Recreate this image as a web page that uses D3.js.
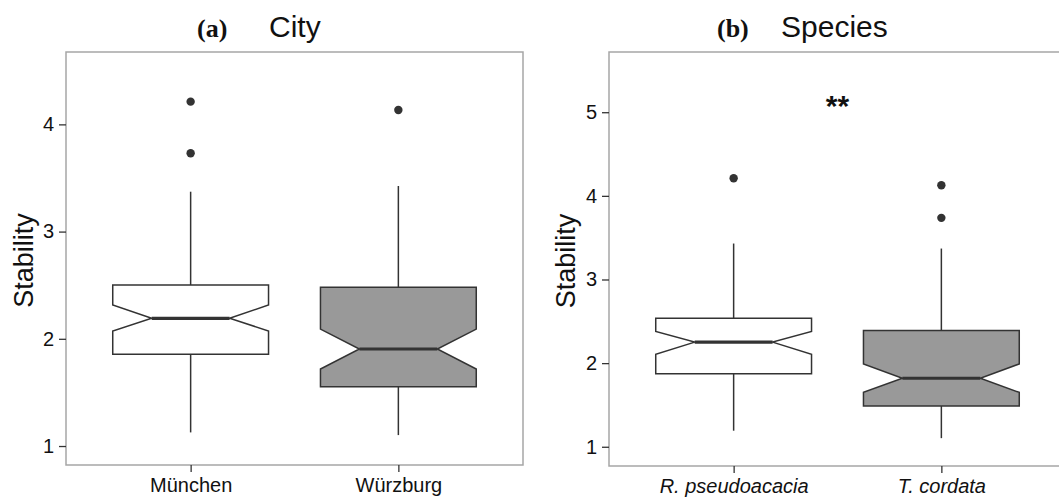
<!DOCTYPE html>
<html>
<head>
<meta charset="utf-8">
<script src="https://cdn.jsdelivr.net/npm/d3@7"></script>
<style>
  body { margin: 0; background: #fff; }
  text { font-family: "Liberation Sans", Arial, sans-serif; fill: #111; }
  text.tag { font-family: "Liberation Serif", "DejaVu Serif", serif; font-weight: bold; }
</style>
</head>
<body>
<svg id="fig" width="1059" height="500"></svg>
<script>
// panel (a) - city
var cities = ["München", "Würzburg"];
var cityQ1 = [1.855, 1.553];
var cityMedian = [2.191, 1.905];
var cityQ3 = [2.502, 2.480];
var cityNotchLo = [2.073, 1.718];
var cityNotchHi = [2.315, 2.091];
var cityWhiskerLo = [1.127, 1.102];
var cityWhiskerHi = [3.372, 3.425];
var cityOutliers = [[4.212, 3.730], [4.134]];
var cityTicks = [1, 2, 3, 4];

// panel (b) - species
var species = ["R. pseudoacacia", "T. cordata"];
var speciesQ1 = [1.872, 1.488];
var speciesMedian = [2.251, 1.819];
var speciesQ3 = [2.538, 2.391];
var speciesNotchLo = [2.107, 1.650];
var speciesNotchHi = [2.379, 1.991];
var speciesWhiskerLo = [1.192, 1.103];
var speciesWhiskerHi = [3.430, 3.370];
var speciesOutliers = [[4.210], [4.126, 3.737]];
var speciesTicks = [1, 2, 3, 4, 5];

var fills = ["#ffffff", "#999999"];
var ink = "#333333";

var svg = d3.select("#fig");

function buildRows(cats, q1, med, q3, nlo, nhi, wlo, whi, outs) {
    return cats.map(function (c, i) {
        return { cat: c, q1: q1[i], med: med[i], q3: q3[i], nlo: nlo[i], nhi: nhi[i],
                 wlo: wlo[i], whi: whi[i], outs: outs[i], fill: fills[i] };
    });
}

function drawPanel(p) {
    var g = svg.append("g");

    var x = d3.scalePoint()
        .domain(p.rows.map(d => d.cat))
        .range([p.left, p.right])
        .padding(0.6);
    var step = x.step();
    var y = d3.scaleLinear()
        .domain(p.yDomain)
        .range([p.bottom, p.top]);

    // panel border
    g.append("rect")
        .attr("x", p.left).attr("y", p.top)
        .attr("width", p.right - p.left).attr("height", p.bottom - p.top)
        .attr("fill", "none").attr("stroke", "#a6a6a6").attr("stroke-width", 1.5);

    // y axis
    var yAxis = g.append("g")
        .attr("transform", "translate(" + p.left + ",0)")
        .call(d3.axisLeft(y).tickValues(p.ticks).tickSize(7).tickPadding(5).tickFormat(d3.format("d")));
    yAxis.select(".domain").remove();
    yAxis.selectAll(".tick line").attr("stroke", ink).attr("stroke-width", 1.3);
    yAxis.selectAll(".tick text").attr("font-size", 20).attr("fill", "#111");

    // x axis
    var xAxis = g.append("g")
        .attr("transform", "translate(0," + p.bottom + ")")
        .call(d3.axisBottom(x).tickSize(7).tickPadding(6));
    xAxis.select(".domain").remove();
    xAxis.selectAll(".tick line").attr("stroke", ink).attr("stroke-width", 1.3);
    xAxis.selectAll(".tick text").attr("font-size", 20).attr("fill", "#111")
        .style("font-style", p.italic ? "italic" : null);

    // y label
    g.append("text")
        .attr("transform", "translate(" + p.labelX + "," + ((p.top + p.bottom) / 2 + 2) + ") rotate(-90)")
        .attr("text-anchor", "middle")
        .attr("font-size", 27)
        .text("Stability");

    // title
    g.append("text")
        .attr("class", "tag")
        .attr("x", p.tagX).attr("y", 37)
        .attr("font-size", 26)
        .text(p.tag);
    g.append("text")
        .attr("x", p.titleX).attr("y", 37)
        .attr("font-size", 30)
        .text(p.title);

    var boxes = g.selectAll(".box").data(p.rows).enter().append("g").attr("class", "box");
    var hw = step * 0.375;

    // whiskers
    boxes.append("line")
        .attr("x1", d => x(d.cat)).attr("x2", d => x(d.cat))
        .attr("y1", d => y(d.q3)).attr("y2", d => y(d.whi))
        .attr("stroke", ink).attr("stroke-width", 1.5);
    boxes.append("line")
        .attr("x1", d => x(d.cat)).attr("x2", d => x(d.cat))
        .attr("y1", d => y(d.q1)).attr("y2", d => y(d.wlo))
        .attr("stroke", ink).attr("stroke-width", 1.5);

    // notched box
    boxes.append("path")
        .attr("d", function (d) {
            var cx = x(d.cat), l = cx - hw, r = cx + hw, nl = cx - hw / 2, nr = cx + hw / 2;
            return "M" + l + "," + y(d.q3) + "L" + r + "," + y(d.q3) +
                "L" + r + "," + y(d.nhi) + "L" + nr + "," + y(d.med) +
                "L" + r + "," + y(d.nlo) + "L" + r + "," + y(d.q1) +
                "L" + l + "," + y(d.q1) + "L" + l + "," + y(d.nlo) +
                "L" + nl + "," + y(d.med) + "L" + l + "," + y(d.nhi) + "Z";
        })
        .attr("fill", d => d.fill)
        .attr("stroke", ink).attr("stroke-width", 1.5);

    // median
    boxes.append("line")
        .attr("x1", d => x(d.cat) - hw / 2).attr("x2", d => x(d.cat) + hw / 2)
        .attr("y1", d => y(d.med)).attr("y2", d => y(d.med))
        .attr("stroke", ink).attr("stroke-width", 3.2);

    // outliers
    boxes.selectAll("circle")
        .data(d => d.outs.map(v => ({ cat: d.cat, v: v })))
        .enter().append("circle")
        .attr("cx", d => x(d.cat)).attr("cy", d => y(d.v))
        .attr("r", 4.2).attr("fill", ink);

    if (p.signif) {
        g.append("text")
            .attr("x", (x(p.rows[0].cat) + x(p.rows[1].cat)) / 2)
            .attr("y", y(p.signif.y))
            .attr("text-anchor", "middle")
            .attr("font-size", 30)
            .attr("font-weight", "bold")
            .text(p.signif.label);
    }
}

drawPanel({
    rows: buildRows(cities, cityQ1, cityMedian, cityQ3, cityNotchLo, cityNotchHi, cityWhiskerLo, cityWhiskerHi, cityOutliers),
    left: 66, right: 523, top: 52, bottom: 465,
    yDomain: [0.823, 4.675], ticks: cityTicks,
    labelX: 33, tagX: 197, titleX: 269, tag: "(a)", title: "City", italic: false
});

drawPanel({
    rows: buildRows(species, speciesQ1, speciesMedian, speciesQ3, speciesNotchLo, speciesNotchHi, speciesWhiskerLo, speciesWhiskerHi, speciesOutliers),
    left: 609, right: 1066, top: 52, bottom: 466,
    yDomain: [0.77, 5.72], ticks: speciesTicks,
    labelX: 575, tagX: 717, titleX: 781, tag: "(b)", title: "Species", italic: true,
    signif: { label: "**", y: 4.95 }
});
</script>
</body>
</html>
